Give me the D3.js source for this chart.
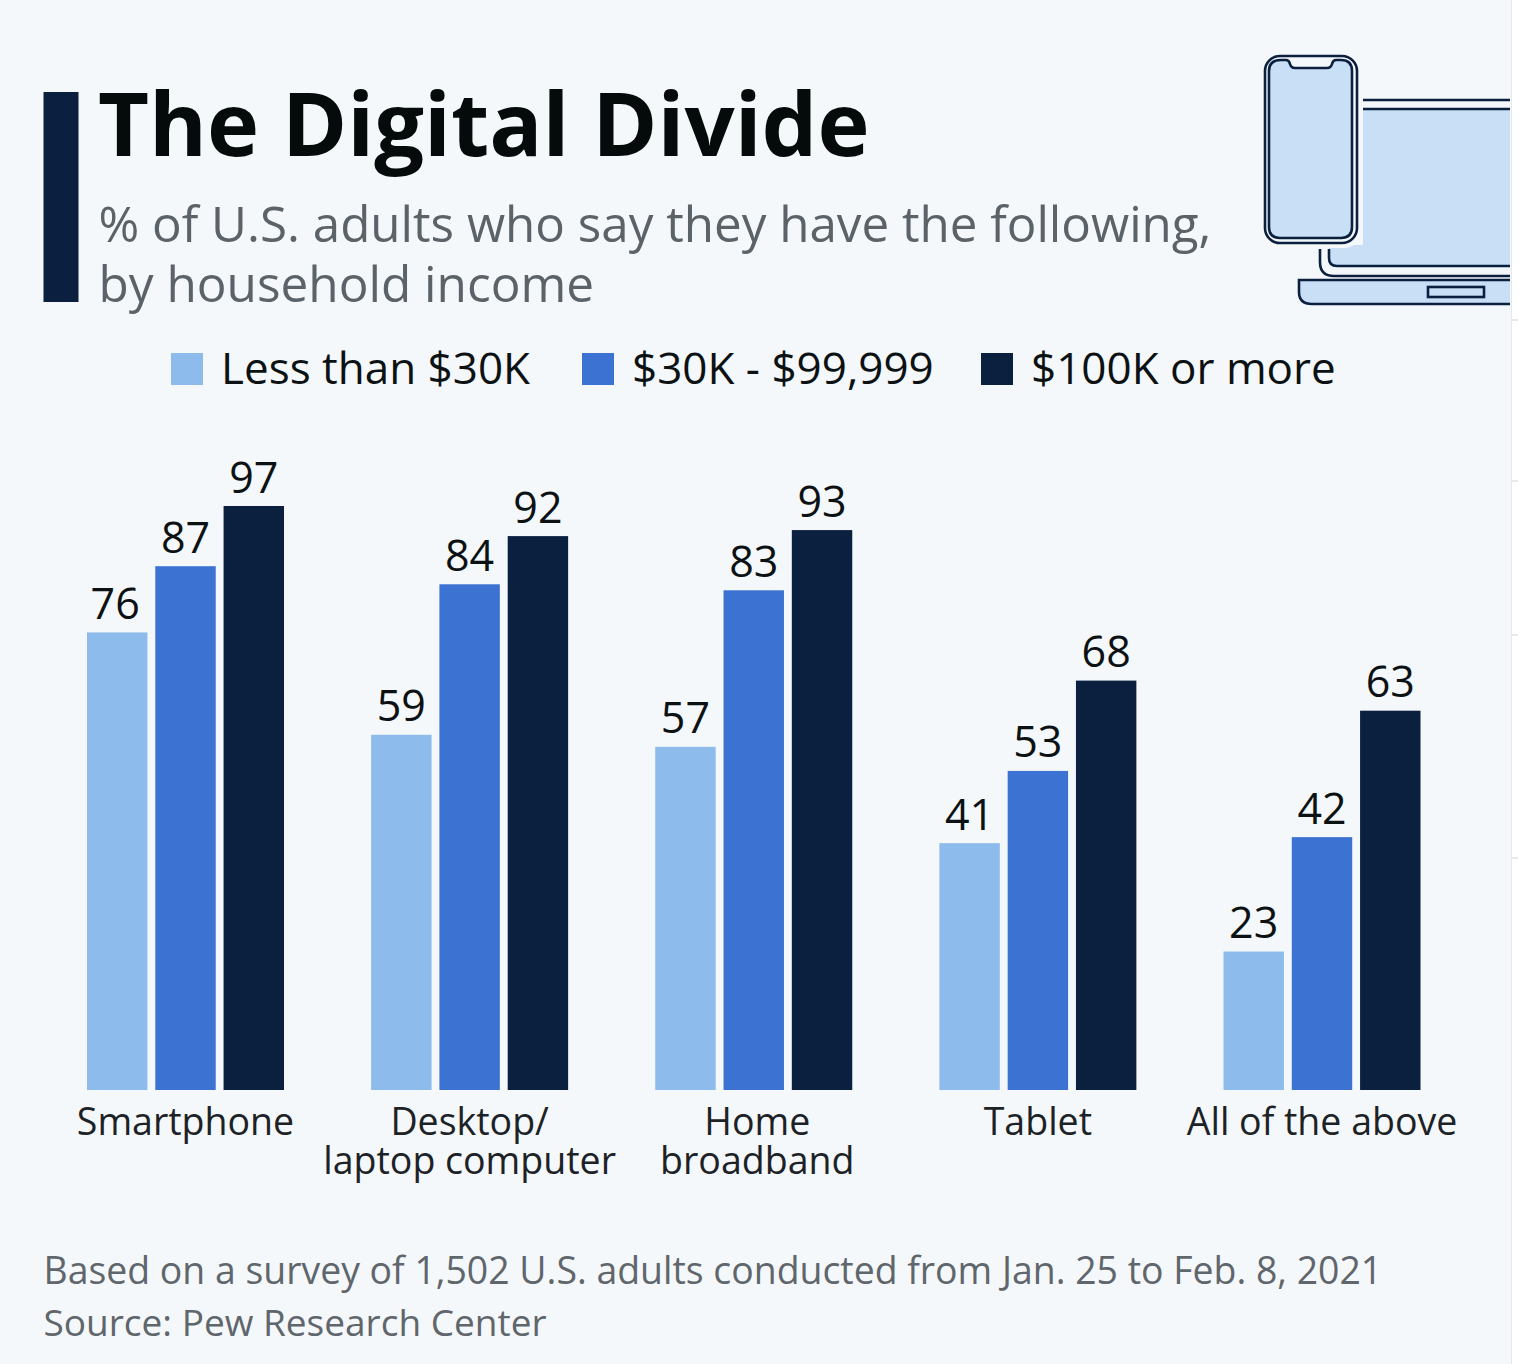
<!DOCTYPE html>
<html><head><meta charset="utf-8">
<script src="https://cdn.jsdelivr.net/npm/d3@7"></script>
<style>html,body{margin:0;padding:0;background:#fff}svg{display:block}text{font-family:"Open Sans",sans-serif}</style>
</head><body><svg id="c" width="1518" height="1364"></svg>
<script>
const categories=[["Smartphone"],["Desktop/","laptop computer"],["Home","broadband"],["Tablet"],["All of the above"]];
const seriesNames=["Less than $30K","$30K - $99,999","$100K or more"];
const low=[76,59,57,41,23];
const mid=[87,84,83,53,42];
const high=[97,92,93,68,63];
const colors=["#8cbbec","#3c72d2","#0b1f3f"];
const series=[low,mid,high];
const svg=d3.select("#c");
const bg="#f5f8fb", ink="#0b1f3f", pale="#c9dff6";
svg.append("rect").attr("width",1511).attr("height",1364).attr("fill",bg);
svg.append("rect").attr("x",1511).attr("width",1).attr("height",1364).attr("fill","#e4e7ec");
[320,481,635,858].forEach(t=>svg.append("rect").attr("x",1512).attr("y",t-1).attr("width",6).attr("height",2).attr("fill","#e8eaec"));
svg.append("rect").attr("x",43.5).attr("y",92).attr("width",35).attr("height",210).attr("fill",ink);
svg.append("text").attr("x",98).attr("y",156).attr("font-size",88.2).attr("font-weight",700).attr("fill","#050a0a").text("The Digital Divide");
svg.append("text").attr("x",98.5).attr("y",241.5).attr("font-size",49.3).attr("fill","#5b6268").text("% of U.S. adults who say they have the following,");
svg.append("text").attr("x",98.5).attr("y",302).attr("font-size",49.5).attr("fill","#5b6268").text("by household income");
const lx=[171,582,981];
seriesNames.forEach((n,i)=>{
 svg.append("rect").attr("x",lx[i]).attr("y",353).attr("width",32).attr("height",32).attr("fill",colors[i]);
 svg.append("text").attr("x",lx[i]+50).attr("y",384).attr("font-size",44).attr("fill","#0c1214").text(n);
});
const yS=d3.scaleLinear().domain([0,97]).range([1090,506]);
const x0=d3.scaleLinear().domain([0,4]).range([185.5,1322]);
const xS=d3.scaleBand().domain([0,1,2]).range([-98.5,98.5]).paddingInner(0.115);
const labelShift=[0,0,3.5,0,0];
categories.forEach((c,i)=>{
 series.forEach((s,j)=>{
  const x=x0(i)+xS(j), y=yS(s[i]);
  svg.append("rect").attr("x",x).attr("y",y).attr("width",xS.bandwidth()).attr("height",1090-y).attr("fill",colors[j]);
  svg.append("text").attr("x",x+xS.bandwidth()/2+(i==0&&j==0?-2:0)).attr("y",y-13.5).attr("text-anchor","middle").attr("font-size",43).attr("fill","#0c1214").text(s[i]);
 });
 c.forEach((l,k)=>svg.append("text").attr("x",x0(i)+labelShift[i]).attr("y",1134.5+k*39).attr("text-anchor","middle").attr("font-size",37.5).attr("fill","#1c2226").text(l));
});
svg.append("text").attr("x",43.5).attr("y",1283.5).attr("font-size",37.4).attr("fill","#5f666c").text("Based on a survey of 1,502 U.S. adults conducted from Jan. 25 to Feb. 8, 2021");
svg.append("text").attr("x",43.5).attr("y",1336).attr("font-size",37).attr("fill","#5f666c").text("Source: Pew Research Center");
// icon, clipped at the panel's right edge
svg.append("clipPath").attr("id","panel").append("rect").attr("width",1510).attr("height",1364);
const g=svg.append("g").attr("clip-path","url(#panel)").attr("fill","none").attr("stroke",ink).attr("stroke-width",2.6);
g.append("path").attr("d","M1329 245V258Q1329 266 1337 266H1520V109H1363V245Z").attr("fill",pale).attr("stroke","none");
g.append("path").attr("d","M1363 100H1520");
g.append("path").attr("d","M1363 109H1520");
g.append("path").attr("d","M1329 249V258Q1329 266 1337 266H1520");
g.append("path").attr("d","M1320 249V262Q1320 276 1334 276H1520");
g.append("path").attr("d","M1299 280H1520V304H1312Q1299 304 1299 292Z").attr("fill",pale);
g.append("rect").attr("x",1428).attr("y",287).attr("width",56).attr("height",10).attr("fill",pale);
g.append("rect").attr("x",1259).attr("y",50).attr("width",104).attr("height",198).attr("rx",20).attr("fill",bg).attr("stroke","none");
g.append("rect").attr("x",1265).attr("y",56).attr("width",92).attr("height",187).attr("rx",15).attr("fill",bg);
g.append("path").attr("d","M1281 60H1286Q1289 60 1290 64Q1291 68 1295 68H1327Q1331 68 1332 64Q1333 60 1336 60H1341Q1352 60 1352 71V227Q1352 238 1341 238H1280Q1269 238 1269 227V71Q1269 60 1281 60Z").attr("fill",pale);
</script></body></html>
